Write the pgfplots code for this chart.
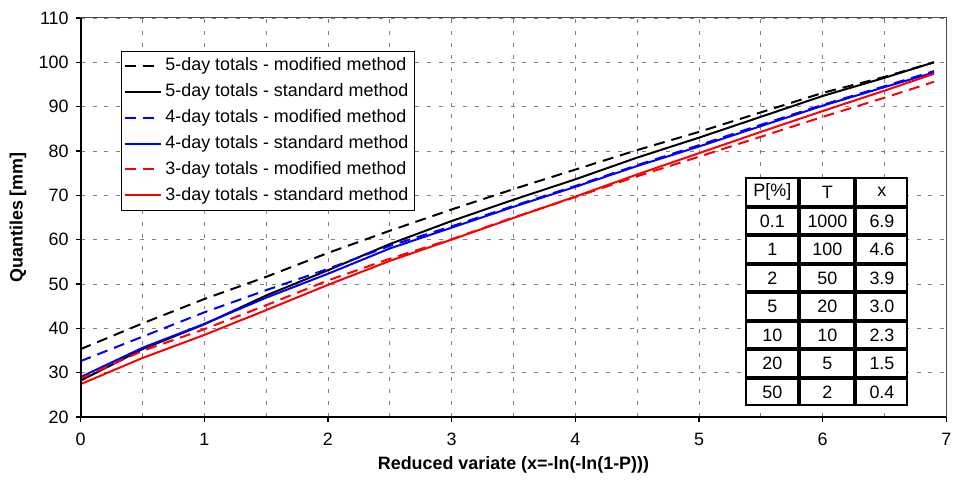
\documentclass[border=0pt]{standalone}
\usepackage{fontspec}
\setmainfont{Liberation Sans}
\usepackage{pgfplots}
\pgfplotsset{compat=1.18}
\usetikzlibrary{matrix}

\newcommand{\chartfont}{\fontsize{9}{10.8}\selectfont}

\tikzset{
    curve/.style={line width=1pt},
    modified/.style={curve, dash pattern=on 5.5pt off 3.5pt},
    standard/.style={curve},
}

\begin{document}
\begin{tikzpicture}
\begin{axis}[
    scale only axis,
    width=435pt, height=200.5pt,
    xmin=0, xmax=7, ymin=20, ymax=110,
    xtick={0,1,...,7}, ytick={20,30,...,110},
    minor x tick num=1,
    grid=both,
    major grid style={gray, dash pattern=on 2pt off 4pt, line width=0.4pt},
    minor grid style={gray, dash pattern=on 2pt off 4pt, line width=0.4pt},
    tick align=outside, tick pos=left,
    major tick length=2.5pt, minor tick length=0pt,
    major tick style={black, line width=0.6pt},
    axis line style={black!70, line width=0.5pt},
    font=\chartfont,
    ticklabel style={font=\chartfont},
    xticklabel style={yshift=-2pt},
    /pgf/number format/assume math mode=true,
    xlabel={\bfseries Reduced variate (x=-ln(-ln(1-P)))},
    ylabel={\bfseries Quantiles [mm]},
    xlabel style={at={(axis description cs:0.5,-0.12)}, anchor=center},
    ylabel style={at={(axis description cs:-0.0724,0.5)}, anchor=center, rotate=0},
    legend style={at={(rel axis cs:0.047,0.918)}, anchor=north west,
        draw=black, fill=white, font=\chartfont,
        row sep=0pt, inner sep=1pt,
        nodes={inner sep=2pt, text height=7pt, text depth=2pt}},
    legend cell align=left,
    legend image code/.code={\draw[#1, line width=1pt] (0pt,0pt) -- (18pt,0pt);},
]

% 5-day totals - modified method
\addplot[modified, black] coordinates {
    (0,35.3) (0.5,41.1) (1,46.6) (1.5,51.6) (2,57.0) (2.5,62.0) (3,66.8)
    (3.5,71.4) (4,75.8) (4.5,80.2) (5,84.3) (5.5,88.7) (6,93.1) (6.5,96.7) (6.9,100.0)
};
\addlegendentry{5-day totals - modified method}

% 5-day totals - standard method
\addplot[standard, black] coordinates {
    (0,28.2) (0.5,35.3) (1,40.9) (1.5,47.4) (2,53.1) (2.5,59.0) (3,64.2)
    (3.5,69.0) (4,73.6) (4.5,78.5) (5,83.0) (5.5,87.7) (6,92.4) (6.5,96.5) (6.9,100.0)
};
\addlegendentry{5-day totals - standard method}

% 4-day totals - modified method
\addplot[modified, blue] coordinates {
    (0,32.6) (0.5,38.1) (1,43.6) (1.5,48.6) (2,53.4) (2.5,58.6) (3,63.0)
    (3.5,67.6) (4,72.1) (4.5,76.8) (5,81.3) (5.5,85.9) (6,90.4) (6.5,94.6) (6.9,98.0)
};
\addlegendentry{4-day totals - modified method}

% 4-day totals - standard method
\addplot[standard, blue] coordinates {
    (0,29.0) (0.5,35.6) (1,41.0) (1.5,46.9) (2,52.3) (2.5,58.0) (3,62.7)
    (3.5,67.4) (4,71.9) (4.5,76.6) (5,81.0) (5.5,85.6) (6,90.2) (6.5,94.4) (6.9,97.7)
};
\addlegendentry{4-day totals - standard method}

% 3-day totals - modified method
\addplot[modified, red] coordinates {
    (0,28.7) (0.5,34.9) (1,39.8) (1.5,45.2) (2,50.8) (2.5,55.7) (3,60.1)
    (3.5,65.0) (4,69.6) (4.5,74.3) (5,78.7) (5.5,83.2) (6,87.7) (6.5,92.0) (6.9,95.6)
};
\addlegendentry{3-day totals - modified method}

% 3-day totals - standard method
\addplot[standard, red] coordinates {
    (0,27.4) (0.5,33.3) (1,38.5) (1.5,44.1) (2,49.8) (2.5,55.2) (3,60.0)
    (3.5,64.9) (4,69.7) (4.5,74.7) (5,79.5) (5.5,84.3) (6,89.0) (6.5,93.6) (6.9,97.4)
};
\addlegendentry{3-day totals - standard method}

\coordinate (tl) at (rel axis cs:0,1);
\coordinate (bl) at (rel axis cs:0,0);
\coordinate (br) at (rel axis cs:1,0);
\coordinate (tbl) at (axis cs:5.374,74.1);
\end{axis}

% darker left and bottom axis lines
\draw[black, line width=1.1pt] (tl) -- (bl) -- (br);

% return period table
\matrix[matrix of nodes, anchor=north west, inner sep=0pt, outer sep=0pt,
    ampersand replacement=\&, column sep=0pt, row sep=0pt,
    nodes={draw, line width=1pt, fill=white, inner sep=0pt, outer sep=0pt,
           anchor=center, font=\chartfont, minimum height=13.3pt},
    column 1/.style={nodes={minimum width=26.2pt}},
    column 2/.style={nodes={minimum width=27.15pt}},
    column 3/.style={nodes={minimum width=25.65pt}},
    row 1/.style={nodes={minimum height=14pt}},
] at (tbl) {
    P[\%] \& T    \& x   \\
    0.1   \& 1000 \& 6.9 \\
    1     \& 100  \& 4.6 \\
    2     \& 50   \& 3.9 \\
    5     \& 20   \& 3.0 \\
    10    \& 10   \& 2.3 \\
    20    \& 5    \& 1.5 \\
    50    \& 2    \& 0.4 \\
};

\path (-40.5pt,-32pt) rectangle (438.5pt,209.5pt);
\end{tikzpicture}
\end{document}
